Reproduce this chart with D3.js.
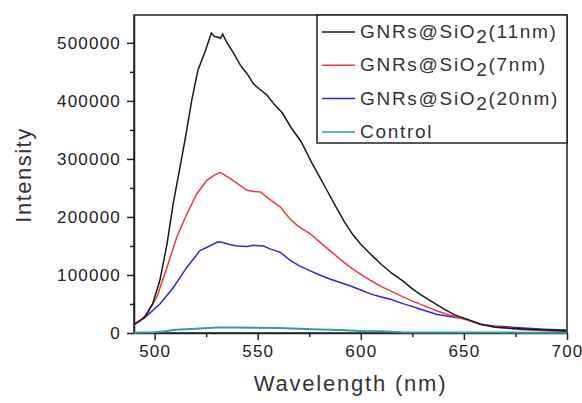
<!DOCTYPE html>
<html>
<head>
<meta charset="utf-8">
<script src="https://cdn.jsdelivr.net/npm/d3@7"></script>
<style>
  body { margin: 0; background: #fff; }
  text { font-family: "Liberation Sans", Arial, sans-serif; }
</style>
</head>
<body>
<div id="display"></div>
<script>
// data: [wavelength nm, intensity]
let black11 = [[490,15000],[495,26000],[499,50000],[502.5,90000],[506,153000],[509,223000],[512,280000],[515,338000],
    [518,401000],[521,453000],[524.5,485000],[527.5,517000],[529,511000],[530.5,510000],[532,508000],[533,515000],
    [535,501000],[538,484000],[541.5,462000],[545,446000],[548,429000],[551,420000],[554.5,410000],[558,394000],
    [562,379000],[566,355000],[571,330000],[576,295000],[580,269000],[584,243000],[588,217000],[592,192000],
    [596,170000],[600,153000],[605,135000],[610,118000],[615,103000],[621,88000],[625,76000],[629,66000],
    [634,55000],[640,42000],[645,32000],[652,23000],[658,15000],[665,10000],[672,8000],[681,6400],[690,5000],[700,3500]];
let red7 = [[490,14000],[493,22000],[496,32000],[501,61000],[506,113000],[510.7,165000],[515.6,205000],[520.5,240000],
    [525.3,263000],[529,272000],[531.8,277000],[534,272000],[536.7,266000],[540,258000],[544.8,246000],[548,244000],
    [551.3,243000],[556,230000],[561,217000],[565.8,196000],[570,183000],[575.5,171000],[580,157000],[585,142000],
    [590,127000],[595,113000],[600,101000],[605,90000],[610,80000],[614.4,72700],[620,63000],[625,55000],[630,48000],
    [637,38000],[644,30000],[652,22000],[658,15000],[665,11000],[677,6000],[690,4000],[700,3000]];
let blue20 = [[490,14000],[496,29000],[502.6,50000],[509,78000],[515.6,113000],[522,142000],[526.7,150000],[530.8,157000],
    [533,156000],[536.7,152000],[540,150000],[544.8,149000],[548,151000],[552.8,150000],[556,145000],[561,139000],
    [565.8,125000],[570,116000],[575.5,107000],[580,100000],[585,93000],[590,87000],[595,81000],[600,74000],
    [605,67000],[610,62000],[614.4,58000],[620,51000],[624,46700],[629,41000],[637,32000],[644,28000],[651,24000],
    [658,15000],[665,12000],[673,10000],[681,8000],[689,6400],[700,5000]];
let control = [[490,500],[500,1500],[505,3000],[510,5500],[520,7500],[530,9500],[540,9500],[550,9000],[560,8500],
    [570,7500],[580,6000],[590,5000],[600,3500],[610,3000],[620,1500],[640,1000],[660,800],[680,600],[700,500]];

let series = [
    {name: 'GNRs@SiO', tail: '(11nm)', data: black11, color: '#1a1a1a'},
    {name: 'GNRs@SiO', tail: '(7nm)', data: red7, color: '#f03a3a'},
    {name: 'GNRs@SiO', tail: '(20nm)', data: blue20, color: '#2a2ae0'},
    {name: 'Control', tail: null, data: control, color: '#2f9e9e'}
];
let xTicks = [500, 550, 600, 650, 700];
let yTicks = [0, 100000, 200000, 300000, 400000, 500000];

// dimensions and margins of the graph
let margin = {top: 15, right: 15, bottom: 70, left: 134};
let width = 582 - margin.left - margin.right;
let height = 403 - margin.top - margin.bottom;

let svg = d3.select('#display')
    .append('svg')
        .attr('width', 582)
        .attr('height', 403)
    .append('g')
        .attr('transform', 'translate(' + margin.left + ',' + margin.top + ')');

// scales
let x = d3.scaleLinear().domain([490, 700]).range([0, width]);
let y = d3.scaleLinear().domain([0, 548000]).range([height, 0]);

// minor ticks
svg.append('g')
    .attr('transform', 'translate(0,' + height + ')')
    .call(d3.axisBottom(x).tickValues([525, 575, 625, 675]).tickSize(4).tickFormat(''))
    .call(g => g.select('.domain').remove());
svg.append('g')
    .call(d3.axisLeft(y).tickValues([50000, 150000, 250000, 350000, 450000]).tickSize(4).tickFormat(''))
    .call(g => g.select('.domain').remove());

// major axes
svg.append('g')
    .attr('transform', 'translate(0,' + height + ')')
    .call(d3.axisBottom(x).tickValues(xTicks).tickSize(7).tickSizeOuter(0).tickPadding(5));
svg.append('g')
    .call(d3.axisLeft(y).tickValues(yTicks).tickSize(7).tickSizeOuter(0).tickPadding(6).tickFormat(d3.format('d')));

svg.selectAll('.tick line').attr('stroke', '#222').attr('stroke-width', 1.5);
svg.selectAll('.domain').attr('stroke', '#222').attr('stroke-width', 1.5);
svg.selectAll('.tick text')
    .attr('fill', '#222')
    .style('font-size', '17px')
    .style('letter-spacing', '1.2px');

// frame
svg.append('rect')
    .attr('width', width).attr('height', height)
    .attr('fill', 'none').attr('stroke', '#222').attr('stroke-width', 1.5);

// curves
let line = d3.line().x(d => x(d[0])).y(d => y(d[1]));
svg.selectAll('path.curve')
    .data(series.slice().reverse())
    .enter()
    .append('path')
        .attr('class', 'curve')
        .attr('d', d => line(d.data))
        .attr('fill', 'none')
        .attr('stroke', d => d.color)
        .attr('stroke-width', d => d.name == 'Control' ? 2 : 1.5);

// legend
let lg = svg.append('g').attr('transform', 'translate(' + (width - 250) + ',0)');
lg.append('rect')
    .attr('width', 250).attr('height', 128)
    .attr('fill', '#fff').attr('stroke', '#222').attr('stroke-width', 1.5);
series.forEach((s, i) => {
    let cy = 17 + i * 33.3;
    lg.append('line')
        .attr('x1', 5).attr('x2', 38).attr('y1', cy).attr('y2', cy)
        .attr('stroke', s.color).attr('stroke-width', 1.5);
    let t = lg.append('text')
        .attr('x', 43).attr('y', cy + 6)
        .attr('fill', '#333')
        .style('font-size', '19px')
        .style('letter-spacing', '1.7px');
    t.append('tspan').text(s.name);
    if (s.tail) {
        t.append('tspan').attr('dy', 5).text('2');
        t.append('tspan').attr('dy', -5).text(s.tail);
    }
});

// axis labels
svg.append('text')
    .attr('x', width / 2).attr('y', height + 58)
    .attr('text-anchor', 'middle')
    .attr('fill', '#333')
    .style('font-size', '22px')
    .style('letter-spacing', '1.8px')
    .text('Wavelength (nm)');
svg.append('text')
    .attr('transform', 'translate(' + (-103) + ',' + (175 - margin.top) + ') rotate(-90)')
    .attr('text-anchor', 'middle')
    .attr('fill', '#333')
    .style('font-size', '22px')
    .style('letter-spacing', '1.5px')
    .text('Intensity');
</script>
</body>
</html>
